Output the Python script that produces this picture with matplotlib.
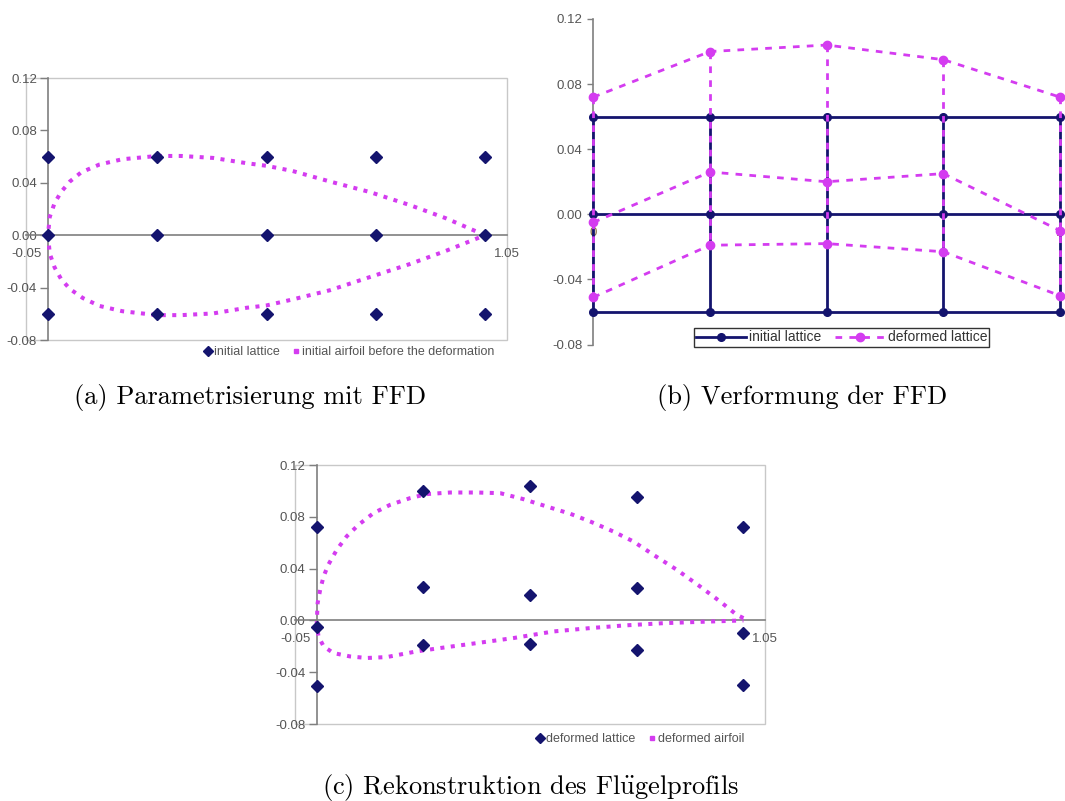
import matplotlib.pyplot as plt
from matplotlib.lines import Line2D
from matplotlib.patches import Rectangle

# FFD lattice (5 columns x 3 rows)
lattice_x = [0.0, 0.25, 0.5, 0.75, 1.0]
init_top = [0.06, 0.06, 0.06, 0.06, 0.06]
init_mid = [0.0, 0.0, 0.0, 0.0, 0.0]
init_bot = [-0.06, -0.06, -0.06, -0.06, -0.06]

def_top = [0.072, 0.100, 0.104, 0.095, 0.072]
def_mid = [-0.005, 0.026, 0.020, 0.025, -0.010]
def_bot = [-0.051, -0.019, -0.018, -0.023, -0.050]

# initial airfoil
init_up_x = [0.0, 0.004, 0.015, 0.03, 0.05, 0.076, 0.118, 0.17, 0.25, 0.305,
             0.378, 0.454, 0.5, 0.56, 0.645, 0.736, 0.828, 0.91, 1.0]
init_up_y = [0.0, 0.014, 0.0245, 0.033, 0.041, 0.048, 0.054, 0.058, 0.0605, 0.0605,
             0.059, 0.055, 0.053, 0.049, 0.041, 0.033, 0.023, 0.013, 0.0]
init_lo_x = [0.0, 0.004, 0.015, 0.03, 0.05, 0.08, 0.118, 0.17, 0.25, 0.305,
             0.378, 0.454, 0.5, 0.56, 0.645, 0.736, 0.828, 0.91, 1.0]
init_lo_y = [0.0, -0.014, -0.0245, -0.0335, -0.041, -0.048, -0.054, -0.058, -0.061, -0.061,
             -0.0597, -0.0554, -0.0536, -0.049, -0.042, -0.032, -0.022, -0.012, 0.0]

# deformed airfoil
def_up_x = [0.0, 0.002, 0.008, 0.016, 0.027, 0.047, 0.07, 0.098, 0.133, 0.172, 0.219,
            0.258, 0.3125, 0.375, 0.43, 0.484, 0.539, 0.594, 0.641, 0.695, 0.742,
            0.789, 0.844, 0.898, 0.945, 0.984, 1.0]
def_up_y = [-0.002, 0.0134, 0.0237, 0.034, 0.043, 0.0546, 0.0649, 0.0739, 0.0829, 0.0893, 0.0945,
            0.0976, 0.0988, 0.0988, 0.0983, 0.0937, 0.088, 0.0824, 0.0764, 0.0687, 0.061,
            0.0507, 0.0391, 0.0263, 0.0147, 0.0044, 0.0018]
def_lo_x = [0.0, 0.004, 0.016, 0.039, 0.078, 0.117, 0.164, 0.234, 0.305, 0.375,
            0.461, 0.555, 0.641, 0.719, 0.8125, 0.906, 1.0]
def_lo_y = [-0.002, -0.0124, -0.020, -0.0252, -0.0278, -0.029, -0.0283, -0.0239, -0.0206, -0.0175,
            -0.0136, -0.0085, -0.0059, -0.0039, -0.0021, -0.001, 0.0]

y_ticks = [0.12, 0.08, 0.04, 0.0, -0.04, -0.08]
y_labels = ["0.12", "0.08", "0.04", "0.00", "-0.04", "-0.08"]

navy = "#14146e"
magenta = "#d43cf0"
axis_grey = "#7f7f7f"
label_grey = "#555555"
plt.rcParams["font.family"] = ["Liberation Sans", "DejaVu Sans"]
plt.rcParams["mathtext.fontset"] = "cm"

fig = plt.figure(figsize=(10.65, 8.01), dpi=100)


def excel_scatter_axes(rect):
    ax = fig.add_axes(rect)
    ax.set_xlim(-0.05, 1.05)
    ax.set_ylim(-0.08, 0.12)
    for s in ["top", "right"]:
        ax.spines[s].set_visible(False)
    ax.spines["left"].set_position(("data", 0))
    ax.spines["bottom"].set_position(("data", 0))
    ax.spines["left"].set_color(axis_grey)
    ax.spines["bottom"].set_color(axis_grey)
    ax.spines["left"].set_linewidth(1.2)
    ax.spines["bottom"].set_linewidth(1.2)
    ax.add_patch(Rectangle((0, 0), 1, 1, transform=ax.transAxes, fill=False,
                           ec="#c8c8c8", lw=1.0, clip_on=False, zorder=0))
    ax.set_yticks(y_ticks)
    ax.set_yticklabels(y_labels)
    ax.set_xticks([-0.05, 1.05])
    ax.set_xticklabels(["-0.05", "1.05"])
    ax.tick_params(axis="y", direction="out", length=6, width=1, color=axis_grey,
                   labelcolor=label_grey, labelsize=9.5, pad=2)
    ax.tick_params(axis="x", length=0, labelcolor=label_grey, labelsize=9.5, pad=9)
    return ax


# ---- (a) initial lattice + airfoil
ax1 = excel_scatter_axes([0.02455, 0.5755, 0.4514, 0.3271])
ax1.plot(init_up_x[::-1] + init_lo_x, init_up_y[::-1] + init_lo_y, color=magenta,
         lw=2.9, ls=(0, (1, 1.6)), zorder=3)
for row in [init_top, init_mid, init_bot]:
    ax1.plot(lattice_x, row, ls="none", marker="D", ms=6.3, color=navy, zorder=4, clip_on=False)
h1 = [Line2D([], [], ls="none", marker="D", ms=5, color=navy),
      Line2D([], [], ls="none", marker="s", ms=3, color=magenta)]
fig.legend(h1, ["initial lattice", "initial airfoil before the deformation"],
           loc="center", bbox_to_anchor=(0.3277, 0.5605), ncol=2, frameon=False,
           fontsize=9, handlelength=0.7, handletextpad=0.1, columnspacing=1.0,
           labelcolor=label_grey)

# ---- (b) lattice deformation
ax2 = fig.add_axes([0.5571, 0.5699, 0.4601, 0.4064])
ax2.set_xlim(0, 1.05)
ax2.set_ylim(-0.08, 0.12)
for s in ["top", "right"]:
    ax2.spines[s].set_visible(False)
ax2.spines["left"].set_color(axis_grey)
ax2.spines["left"].set_linewidth(1.2)
ax2.spines["bottom"].set_position(("data", 0))
ax2.spines["bottom"].set_color("none")
ax2.set_yticks(y_ticks)
ax2.set_yticklabels(y_labels)
ax2.set_xticks([0, 1])
ax2.set_xticklabels(["0", "1"])
ax2.tick_params(axis="y", direction="out", length=4, width=1, color=axis_grey,
                labelcolor=label_grey, labelsize=9.5, pad=4)
ax2.tick_params(axis="x", length=0, labelcolor="#8a6a40", labelsize=9.5, pad=9)
for row in [init_top, init_mid, init_bot]:
    ax2.plot(lattice_x, row, color=navy, lw=2, marker="o", ms=5.5, zorder=3, clip_on=False)
for i in range(len(lattice_x)):
    ax2.plot([lattice_x[i], lattice_x[i]], [init_top[i], init_bot[i]], color=navy, lw=2,
             zorder=3, clip_on=False)
for row in [def_top, def_mid, def_bot]:
    ax2.plot(lattice_x, row, color=magenta, lw=2, ls=(0, (2.4, 2.6)), marker="o", ms=6,
             zorder=4, clip_on=False)
for i in range(len(lattice_x)):
    ax2.plot([lattice_x[i], lattice_x[i]], [def_top[i], def_bot[i]], color=magenta, lw=2,
             ls=(0, (2.4, 2.6)), zorder=4, clip_on=False)
h2 = [Line2D([], [], color=navy, lw=2, marker="o", ms=5.5),
      Line2D([], [], color=magenta, lw=2, ls=(0, (2.4, 2.6)), marker="o", ms=6)]
leg2 = fig.legend(h2, ["initial lattice", "deformed lattice"], loc="center",
                  bbox_to_anchor=(0.7901, 0.5787), ncol=2, frameon=True, fancybox=False,
                  fontsize=10, handlelength=3.6, handletextpad=0.2, columnspacing=1.0,
                  borderpad=0.15, labelcolor="#333333")
leg2.get_frame().set_edgecolor("black")
leg2.get_frame().set_linewidth(1.0)

# ---- (c) reconstructed airfoil
ax3 = excel_scatter_axes([0.2774, 0.0961, 0.4407, 0.3233])
ax3.plot(def_up_x[::-1] + def_lo_x, def_up_y[::-1] + def_lo_y, color=magenta,
         lw=2.9, ls=(0, (1, 1.6)), zorder=3)
for row in [def_top, def_mid, def_bot]:
    ax3.plot(lattice_x, row, ls="none", marker="D", ms=6.3, color=navy, zorder=4, clip_on=False)
h3 = [Line2D([], [], ls="none", marker="D", ms=5, color=navy),
      Line2D([], [], ls="none", marker="s", ms=3, color=magenta)]
fig.legend(h3, ["deformed lattice", "deformed airfoil"],
           loc="center", bbox_to_anchor=(0.601, 0.0774), ncol=2, frameon=False,
           fontsize=9, handlelength=0.7, handletextpad=0.1, columnspacing=1.0,
           labelcolor=label_grey)

# ---- captions
cap = dict(family=["cmr10", "DejaVu Serif"], fontsize=19, ha="center", va="baseline")
fig.text(250 / 1065, (801 - 404) / 801, "(a) Parametrisierung mit FFD", **cap)
fig.text(802 / 1065, (801 - 404) / 801, "(b) Verformung der FFD", **cap)
fig.text(530 / 1065, (801 - 794) / 801, r"(c) Rekonstruktion des Fl$\ddot{\rm u}$gelprofils", **cap)

fig.savefig("out.png", dpi=100)
